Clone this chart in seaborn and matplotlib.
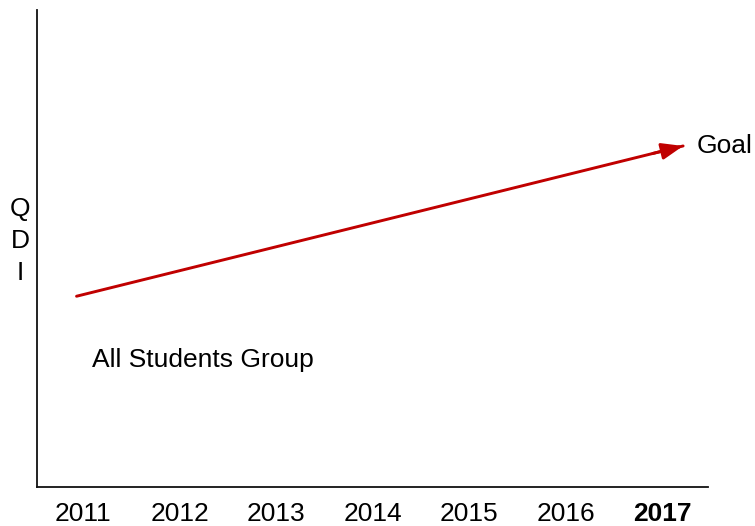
#QDI goal line chart
import pandas as pd
import numpy as np
import matplotlib
matplotlib.use('Agg')
import matplotlib.pyplot as plt
import seaborn as sns

#Data
years = [2011, 2012, 2013, 2014, 2015, 2016, 2017]
goal_x = [2010.93, 2017.22]
goal_y = [40.0, 71.5]
goal_label = 'Goal'
group_label = 'All Students Group'

sns.set_style('white')
plt.rcParams['font.family'] = ['Liberation Sans', 'DejaVu Sans']
plt.rcParams['text.color'] = 'black'
plt.rcParams['xtick.color'] = 'black'
plt.rcParams['axes.labelcolor'] = 'black'

fig = plt.figure(figsize=(7.55, 5.26), dpi=100)
ax = fig.add_axes([0.049, 0.074, 0.889, 0.907])

goal_df = pd.DataFrame({'Year': goal_x, 'QDI': goal_y})
sns.lineplot(data=goal_df, x='Year', y='QDI', color='#c00000', linewidth=2.1, ax=ax)

# arrow head at the end of the goal line
dx = goal_x[1] - goal_x[0]
dy = goal_y[1] - goal_y[0]
ax.annotate('', xy=(goal_x[1], goal_y[1]),
            xytext=(goal_x[1] - dx * 0.05, goal_y[1] - dy * 0.05),
            arrowprops=dict(arrowstyle='-|>,head_length=1.3,head_width=0.5',
                            color='#c00000', lw=2.1, shrinkA=0, shrinkB=0))

ax.text(2017.36, goal_y[1], goal_label, fontsize=19, va='center', ha='left')
ax.text(2011.09, 26.6, group_label, fontsize=19, va='center', ha='left')

ax.set_xlim(2010.52, 2017.48)
ax.set_ylim(0, 100)
ax.set_xticks(years)
ax.set_xticklabels([str(y) for y in years], fontsize=19)
ax.get_xticklabels()[-1].set_fontweight('bold')
ax.tick_params(axis='x', length=0, pad=11)
ax.set_yticks([])
ax.set_xlabel('')
ax.set_ylabel('Q\nD\nI', rotation=0, fontsize=19, va='center', ha='center', linespacing=1.42)
ax.yaxis.set_label_coords(-0.025, 0.516)

for side in ['top', 'right']:
    ax.spines[side].set_visible(False)
for side in ['left', 'bottom']:
    ax.spines[side].set_color('#111111')
    ax.spines[side].set_linewidth(1.3)

plt.savefig('out.png', dpi=100)
